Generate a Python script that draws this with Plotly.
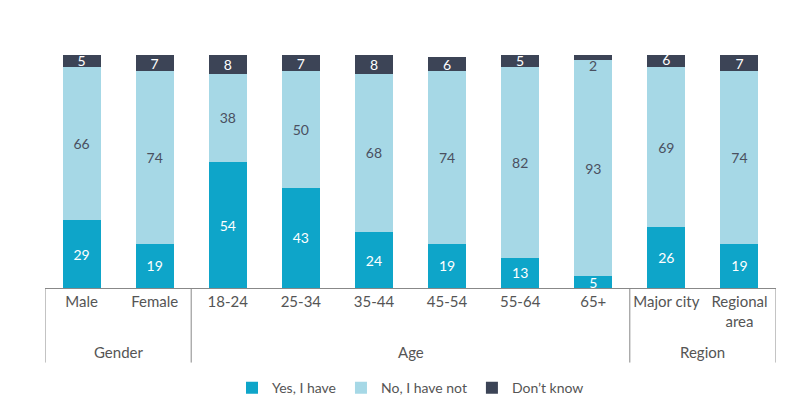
import plotly.graph_objects as go

categories = ["Male", "Female", "18-24", "25-34", "35-44", "45-54", "55-64", "65+", "Major city", "Regional<br>area"]
yes_vals = [29, 19, 54, 43, 24, 19, 13, 5, 26, 19]
no_vals = [66, 74, 38, 50, 68, 74, 82, 93, 69, 74]
dk_vals = [5, 7, 8, 7, 8, 6, 5, 2, 6, 7]
groups = [("Gender", -0.5, 1.5), ("Age", 1.5, 7.5), ("Region", 7.5, 9.5)]

x = list(range(len(categories)))
fig = go.Figure()
series = [
    ("Yes, I have", yes_vals, "#0ea5c9", "white"),
    ("No, I have not", no_vals, "#a6d8e6", "#4a5060"),
    ("Don’t know", dk_vals, "#3c4456", "white"),
]
for name, vals, col, tcol in series:
    # values too small for their segment get an outside label instead
    texts = [str(v) if v >= 4 else "" for v in vals]
    fig.add_trace(go.Bar(
        x=x, y=vals, name=name, marker=dict(color=col, line=dict(width=0)),
        text=texts, textposition="inside", insidetextanchor="middle", textangle=0,
        textfont=dict(color=tcol, size=14), width=0.52, constraintext="none",
    ))

for i, v in enumerate(dk_vals):
    if v < 4:
        fig.add_annotation(x=i, y=100 - v - 2.5, text=str(v), showarrow=False,
                           font=dict(size=14, color="#4a5060"))

shapes = []
for label, a, b in groups:
    shapes.append(dict(type="line", xref="x", yref="paper", x0=a, x1=a, y0=0, y1=-0.32,
                       line=dict(color="#888", width=1)))
    fig.add_annotation(x=(a + b) / 2, xref="x", y=-0.275, yref="paper", text=label,
                       showarrow=False, font=dict(size=15, color="#555"), yanchor="middle")
shapes.append(dict(type="line", xref="x", yref="paper", x0=9.5, x1=9.5, y0=0, y1=-0.32,
                   line=dict(color="#888", width=1)))

fig.update_layout(
    width=800, height=400, barmode="stack", showlegend=True,
    margin=dict(l=37, r=32, t=47, b=120, autoexpand=False),
    paper_bgcolor="white", plot_bgcolor="white",
    font=dict(family="Lato", color="#555", size=14),
    shapes=shapes, uniformtext=dict(mode="show", minsize=10),
    xaxis=dict(range=[-0.5, 9.5], tickvals=x, ticktext=categories, showgrid=False,
               showline=True, linecolor="#888", ticks="", tickfont=dict(size=15)),
    yaxis=dict(range=[0, 100], visible=False),
    legend=dict(orientation="h", x=0.5, xanchor="center", y=-0.43, yanchor="middle",
                traceorder="normal", font=dict(size=14, color="#555"), itemwidth=30),
)
fig.write_html("out.html")
